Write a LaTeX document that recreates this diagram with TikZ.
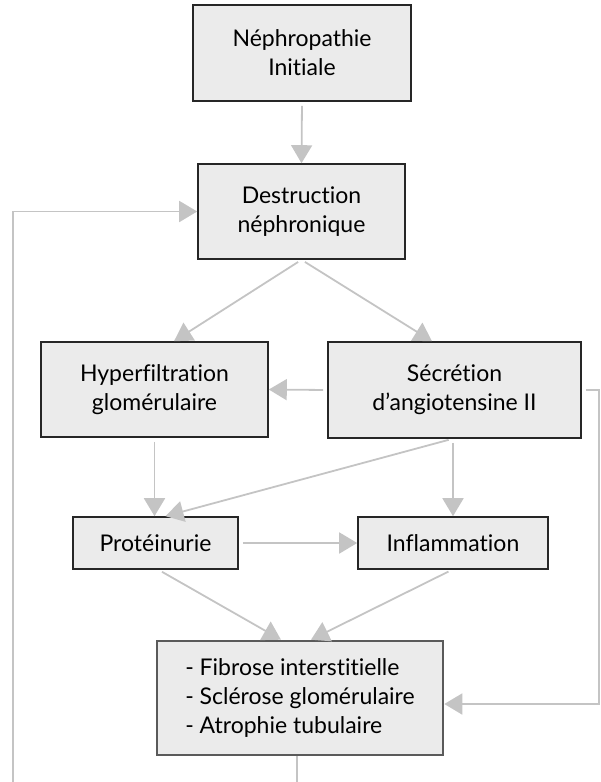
\documentclass[tikz,border=0pt]{standalone}
\usepackage{fontspec}
\setmainfont[Ligatures=CommonOff]{Lato}
\usepackage{xcolor}
\usetikzlibrary{arrows.meta,positioning,calc}
\definecolor{boxfill}{HTML}{EBEBEB}
\definecolor{boxline}{HTML}{262626}
\definecolor{resline}{HTML}{5A5A5A}
\definecolor{arrowgray}{HTML}{C4C4C4}
\tikzset{
  box/.style={draw=boxline, line width=1.6pt, fill=boxfill, align=center, inner sep=4pt, font=\fontsize{23}{29}\selectfont},
  resultbox/.style={box, draw=resline, line width=2.6pt, align=left},
  arrow/.style={-{Triangle[length=18pt,width=21pt]}, line width=1.8pt, draw=arrowgray, shorten <=4pt},
  link/.style={line width=1.8pt, draw=arrowgray}
}

\begin{document}
\begin{tikzpicture}[x=1pt,y=-1pt]
  \useasboundingbox (0,0) rectangle (600,782);
  \node[box, minimum width=218pt, minimum height=96pt] (initiale) at (302,53) {Néphropathie\\Initiale};
  \node[box, minimum width=207pt, minimum height=95pt] (destruction) at (301.5,211.5) {Destruction\\néphronique};
  \node[box, minimum width=227pt, minimum height=95pt] (hyper) at (154.5,389.5) {Hyperfiltration\\glomérulaire};
  \node[box, minimum width=253pt, minimum height=96pt] (secretion) at (454.5,390) {Sécrétion\\d’angiotensine II};
  \node[box, minimum width=165pt, minimum height=52pt] (proteinurie) at (155.5,543) {Protéinurie};
  \node[box, minimum width=190pt, minimum height=52pt] (inflammation) at (453,543) {Inflammation};
  \node[resultbox, minimum width=286pt, minimum height=114pt] (lesions) at (300,698)
    {- Fibrose interstitielle\\- Sclérose glomérulaire\\- Atrophie tubulaire};

  \coordinate (lbot) at (13,782);
  \coordinate (ltop) at (13,211.5);
  \coordinate (rtop) at (599,390);
  \coordinate (rbot) at (599,704);
  \coordinate (sortie) at (297,782);

  \draw[arrow] (initiale.south) -- (destruction.north);
  \draw[arrow] (destruction.south) -- ($(hyper.north)+(19.5,0)$);
  \draw[arrow] (destruction.south) -- ($(secretion.north)+(-22.5,0)$);
  \draw[arrow] (secretion.west) -- (hyper.east);
  \draw[arrow] (hyper.south) -- (hyper.south |- proteinurie.north);
  \draw[arrow] (secretion.south -| inflammation) -- (inflammation.north);
  \draw[arrow] ($(secretion.south)+(-2,0)$) -- ($(proteinurie.north)+(10,0)$);
  \draw[arrow] (proteinurie.east) -- (inflammation.west);
  \draw[arrow] ($(proteinurie.south)+(3,0)$) -- ($(lesions.north)+(-19,0)$);
  \draw[arrow] ($(inflammation.south)+(-1,0)$) -- ($(lesions.north)+(11,0)$);

  % boucles
  \draw[arrow] (secretion.east) -- (rtop) -- (rbot) -- (lesions.east |- rbot);
  \draw[arrow, shorten <=0pt] (lbot) -- (ltop) -- (destruction.west);
  \draw[link] (lesions.south -| sortie) -- (sortie);
\end{tikzpicture}
\end{document}
